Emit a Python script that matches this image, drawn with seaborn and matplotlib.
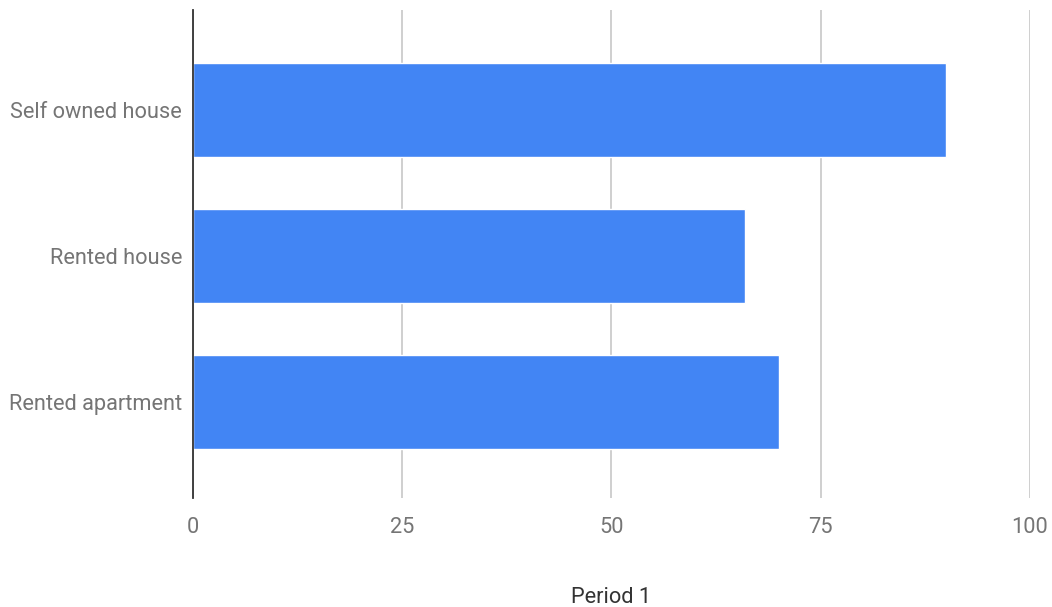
import matplotlib
matplotlib.use("Agg")
import matplotlib.pyplot as plt
import seaborn as sns
import pandas as pd

categories = ["Self owned house", "Rented house", "Rented apartment"]
values = [90, 66, 70]
x_ticks = [0, 25, 50, 75, 100]

df = pd.DataFrame({"category": categories, "value": values})

sns.set_theme(style="white")
plt.rcParams["font.family"] = ["Roboto", "DejaVu Sans"]

fig = plt.figure(figsize=(10.52, 6.07), dpi=100)
ax = fig.add_axes([193 / 1052, 1 - 498 / 607, (1030 - 193) / 1052, (498 - 10) / 607])

sns.barplot(data=df, x="value", y="category", orient="h", color="#4285F4",
            saturation=1, width=0.64, ax=ax, zorder=3)

ax.set_xlim(0, 100)
ax.set_ylim(2.657, -0.685)
ax.set_xticks(x_ticks)
ax.set_xticklabels([str(t) for t in x_ticks])
ax.xaxis.grid(True, color="#cccccc", linewidth=1.3, zorder=0)
ax.yaxis.grid(False)

for s in ["top", "right", "bottom"]:
    ax.spines[s].set_visible(False)
ax.spines["left"].set_color("#333333")
ax.spines["left"].set_linewidth(1.3)
ax.spines["left"].set_zorder(4)

fs = 15.7
ax.tick_params(axis="x", length=0, pad=14, labelsize=fs, labelcolor="#757575")
ax.tick_params(axis="y", length=0, pad=8, labelsize=fs, labelcolor="#757575")

ax.set_ylabel("")
ax.set_xlabel("Period 1", fontsize=fs, color="#333333", labelpad=35)

fig.savefig("out.png", dpi=100)
